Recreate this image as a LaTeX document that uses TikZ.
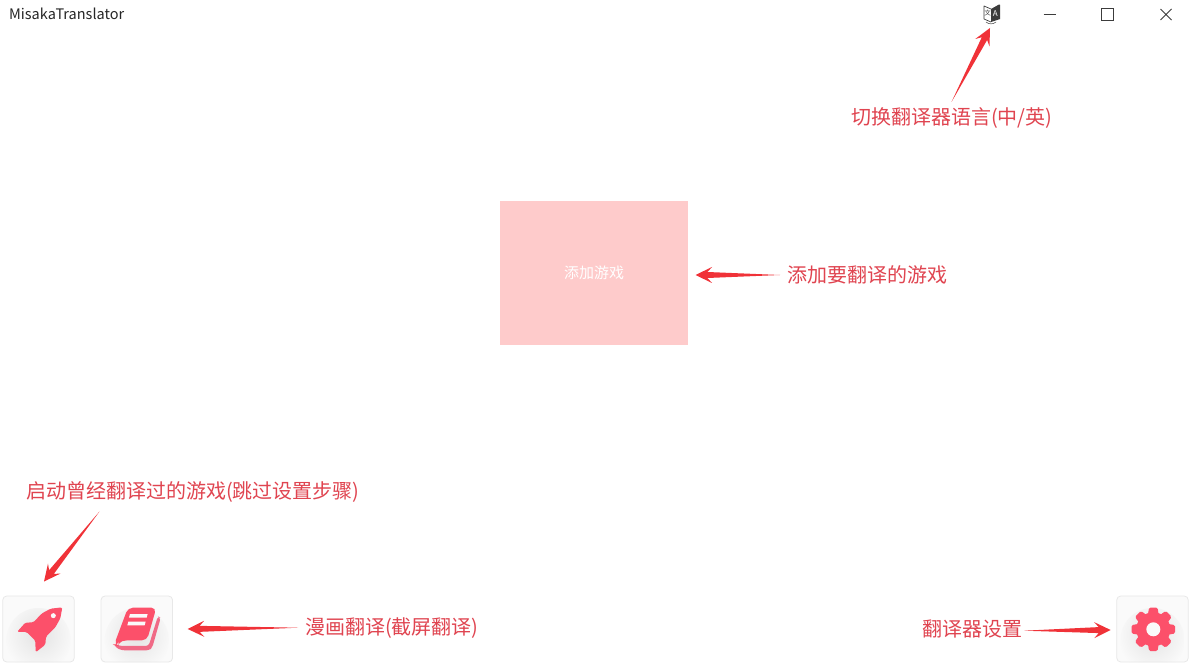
\documentclass[tikz,border=0pt]{standalone}
\usepackage{fontspec}
\setmainfont{Noto Sans CJK SC}
\usetikzlibrary{calc,shadings}
\definecolor{labelred}{RGB}{224,68,80}
\definecolor{arrowred}{RGB}{240,50,56}
\definecolor{iconred}{RGB}{252,80,106}
\definecolor{iconlight}{RGB}{240,106,134}
\definecolor{btnfill}{RGB}{250,250,250}
\definecolor{btnline}{RGB}{232,232,232}
\definecolor{boxpink}{RGB}{254,203,203}
\definecolor{wingray}{RGB}{60,60,60}
\tikzset{
  lbl/.style={inner sep=0pt,anchor=west,text=labelred,font=\fontsize{20}{20}\selectfont},
  btn/.style={draw=btnline,line width=.8pt,fill=btnfill,rounded corners=4pt,minimum width=71.5pt,minimum height=66pt,inner sep=0pt,
    path picture={\shade[inner color=black!11,outer color=btnfill] ($(path picture bounding box.center)+(0,11)$) circle (32);}},
  winbtn/.style={draw=wingray,line width=1pt}
}
% tail, head: tapered arrow polygon
\newcommand{\taper}[2]{%
  \fill[arrowred] (#1)
    -- ($(#2)!12pt!(#1)!3pt!90:(#1)$)
    -- ($(#2)!16.5pt!(#1)!8pt!90:(#1)$)
    -- (#2)
    -- ($(#2)!16.5pt!(#1)!8pt!-90:(#1)$)
    -- ($(#2)!12pt!(#1)!3pt!-90:(#1)$)
    -- cycle;}
\begin{document}
\begin{tikzpicture}[x=1pt,y=-1pt]
\path[use as bounding box,fill=white] (0,0) rectangle (1194,668);

% title bar
\node[inner sep=0pt,anchor=west,text=black!85,font=\fontsize{14.5}{15}\selectfont] (title) at (9,14) {MisakaTranslator};
\draw[winbtn] (1043.5,14.5) -- (1056,14.5);
\draw[winbtn] (1101.5,9) rectangle (1113,20.5);
\draw[winbtn] (1160.5,9) -- (1171.5,20) (1171.5,9) -- (1160.5,20);

% language icon
\draw[wingray,line width=.7pt,fill=white,line join=round] (991,9) -- (984,6) -- (984,19) -- (991,22);
\fill[wingray] (991,9) -- (999,4.5) -- (1000,5) -- (1000,19) -- (991,22) -- cycle;
\node[inner sep=0pt,text=wingray,font=\fontsize{6.5}{7}\selectfont] (langL) at (987.5,13.5) {文};
\node[inner sep=0pt,text=white,font=\fontsize{8}{8}\selectfont] (langR) at (995.3,13.5) {A};
\draw[wingray,line width=.5pt] (986,22) .. controls (989,24.5) and (993,24.5) .. (996,22);

% central box
\node[fill=boxpink,minimum width=188pt,minimum height=144pt,inner sep=0pt,text=white,font=\fontsize{15}{15}\selectfont] (addBox) at (594,273) {添加游戏};

% buttons
\node[btn] (rocketBtn) at (38.5,629) {};
\node[btn] (bookBtn) at (136.8,629) {};
\node[btn] (gearBtn) at (1152.5,629) {};

% rocket icon
\begin{scope}[shift={(0,590)},x=.3333pt,y=-.3333pt]
  \fill[iconred,rounded corners=1.5pt] (187,52) -- (152,56) -- (126,70) -- (100,97) -- (76,98)
    -- (51,126) -- (80,126) -- (106,152) -- (107,187) -- (136,164) -- (138,140) -- (166,112) -- (181,85) -- cycle;
  \fill[btnfill] (160,77) circle (7.5);
\end{scope}

% book icon
\begin{scope}[shift={(0,590)},x=.3333pt,y=-.3333pt]
  \fill[iconlight,rounded corners=3pt] (474,78) -- (482,84) -- (457,172) -- (448,181) -- (365,181) -- (346,172) -- (343,160) -- (360,168) -- (446,168) -- cycle;
  \fill[iconred,rounded corners=5pt] (384,53) -- (469,53) -- (441,151) -- (372,151) -- (358,156) -- (352,168) -- (342,165) -- cycle;
  \fill[btnfill] (390,72) -- (443,72) -- (440,83) -- (387,83) -- cycle;
  \fill[btnfill] (385,95) -- (437,95) -- (434,106) -- (382,106) -- cycle;
\end{scope}

% gear icon
\begin{scope}[shift={(1153.3,629.3)}]
  \fill[iconred] (0,0) circle (17);
  \foreach \a in {0,45,...,315}{
    \fill[iconred,rotate=\a,rounded corners=1.5pt] (-5.5,-14) -- (-4.2,-21.8) -- (4.2,-21.8) -- (5.5,-14) -- cycle;
  }
  \fill[btnfill] (0,0) circle (7);
\end{scope}

% labels
\node[lbl] (lblLang) at (851,118) {切换翻译器语言(中/英)};
\node[lbl] (lblAdd) at (787,275) {添加要翻译的游戏};
\node[lbl] (lblRocket) at (26,492) {启动曾经翻译过的游戏(跳过设置步骤)};
\node[lbl] (lblBook) at (305,628) {漫画翻译(截屏翻译)};
\node[lbl] (lblGear) at (922,629) {翻译器设置};

% connector ends
\coordinate (langTail) at (951.5,102);
\coordinate (langHead) at (990,28);
\coordinate (addTail) at (780,275);
\coordinate (addHead) at (695.5,275);
\coordinate (rocketTail) at (99.5,511.5);
\coordinate (rocketHead) at (44,581.5);
\coordinate (bookTail) at (298,627.7);
\coordinate (bookHead) at (187.7,629);
\coordinate (gearTail) at (1024,630.7);
\coordinate (gearHead) at (1110.7,630);

% connectors
\taper{langTail}{langHead}
\taper{addTail}{addHead}
\taper{rocketTail}{rocketHead}
\taper{bookTail}{bookHead}
\taper{gearTail}{gearHead}
\end{tikzpicture}
\end{document}
